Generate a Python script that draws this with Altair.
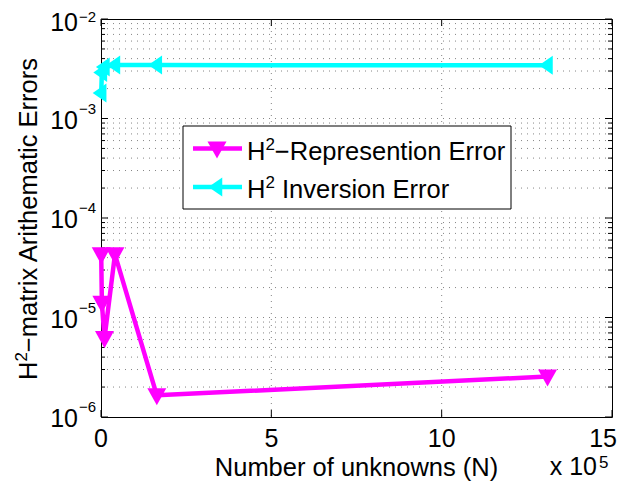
import altair as alt
import pandas as pd

# ---- data ----
N = [640, 2560, 10240, 40960, 163840, 1310720]
rep_err = [4.3e-5, 1.4e-5, 6.2e-6, 4.3e-5, 1.65e-6, 2.55e-6]
inv_err = [1.8e-3, 2.9e-3, 3.3e-3, 3.44e-3, 3.44e-3, 3.42e-3]

series_rest = ["\u2212Represention Error", "Inversion Error"]
series_gap = [0.0, 0.278]   # leading space (in em) after the superscript
x_ticks = [0, 5e5, 1e6, 1.5e6]
x_tick_labels = ["0", "5", "10", "15"]
y_major = [1e-6, 1e-5, 1e-4, 1e-3, 1e-2]
y_exponents = ["\u22126", "\u22125", "\u22124", "\u22123", "\u22122"]
x_title = "Number of unknowns (N)"
y_title_rest = "\u2212matrix Arithematic Errors"
x_mult = "x 10"
x_mult_exp = "5"

# ---- layout ----
W, H = 511, 398
FONT = "Liberation Sans"
FS = 25.5          # title / legend font size
FSS = 17           # superscript font size
H_W = 0.722 * FS   # advance of "H"
TWO_W = 0.556 * FSS
MAG = "#ff00ff"
CYA = "#00ffff"
TRI_DOWN = "M-1,-0.75L1,-0.75L0,1.05Z"
TRI_LEFT = "M-0.9,0L0.55,-1L0.55,1Z"

xs = alt.Scale(domain=[0, 1.5e6], nice=False, zero=False)
ys = alt.Scale(type="log", domain=[1e-6, 1e-2], nice=False)

y_minor = [k * 10.0 ** e for e in range(-6, -2) for k in range(2, 10)]

df_rep = pd.DataFrame({"N": N, "err": rep_err})
df_inv = pd.DataFrame({"N": N, "err": inv_err})
df_ymaj = pd.DataFrame({"v": y_major, "exp": y_exponents})
df_ymin = pd.DataFrame({"v": y_minor})
df_ygrid = pd.DataFrame({"v": y_minor + y_major[1:-1]})
df_xgrid = pd.DataFrame({"v": x_ticks[1:-1]})
df_xt = pd.DataFrame({"v": x_ticks, "lab": x_tick_labels})
one = pd.DataFrame({"a": [0]})

X = lambda f: alt.X(f, scale=xs, axis=None)
Y = lambda f: alt.Y(f, scale=ys, axis=None)


def txt(s, x, y, size=FS, align="left", angle=0):
    kw = dict(align=align, baseline="alphabetic", fontSize=size, font=FONT, color="#000")
    if angle:
        kw["angle"] = angle
    return alt.Chart(one).mark_text(**kw).encode(
        x=alt.value(x), y=alt.value(y), text=alt.value(s))


grid_style = dict(stroke="#333", strokeWidth=1, strokeDash=[1, 5], opacity=0.6)

grid_y = alt.Chart(df_ygrid).mark_rule(**grid_style).encode(
    y=Y("v:Q"), x=alt.value(0), x2=alt.value(W))
grid_x = alt.Chart(df_xgrid).mark_rule(**grid_style).encode(
    x=X("v:Q"), y=alt.value(0), y2=alt.value(H))

tick_style = dict(stroke="#000", strokeWidth=1)
ticks = [
    alt.Chart(df_ymaj).mark_rule(**tick_style).encode(y=Y("v:Q"), x=alt.value(0), x2=alt.value(7)),
    alt.Chart(df_ymaj).mark_rule(**tick_style).encode(y=Y("v:Q"), x=alt.value(W - 7), x2=alt.value(W)),
    alt.Chart(df_ymin).mark_rule(**tick_style).encode(y=Y("v:Q"), x=alt.value(0), x2=alt.value(4)),
    alt.Chart(df_ymin).mark_rule(**tick_style).encode(y=Y("v:Q"), x=alt.value(W - 4), x2=alt.value(W)),
    alt.Chart(df_xt).mark_rule(**tick_style).encode(x=X("v:Q"), y=alt.value(H - 7), y2=alt.value(H)),
    alt.Chart(df_xt).mark_rule(**tick_style).encode(x=X("v:Q"), y=alt.value(0), y2=alt.value(7)),
]

line_rep = alt.Chart(df_rep).mark_line(color=MAG, strokeWidth=4.5, strokeJoin="round").encode(
    x=X("N:Q"), y=Y("err:Q"))
pts_rep = alt.Chart(df_rep).mark_point(shape=TRI_DOWN, filled=True, size=361, color=MAG, opacity=1).encode(
    x=X("N:Q"), y=Y("err:Q"))
line_inv = alt.Chart(df_inv).mark_line(color=CYA, strokeWidth=4.5, strokeJoin="round").encode(
    x=X("N:Q"), y=Y("err:Q"))
pts_inv = alt.Chart(df_inv).mark_point(shape=TRI_LEFT, filled=True, size=361, color=CYA, opacity=1).encode(
    x=X("N:Q"), y=Y("err:Q"))

# y tick labels: 10 with superscript exponent
lo, hi = "datum.v < 0.005", "datum.v > 0.005"
ylab_base = alt.Chart(df_ymaj).transform_filter(lo).mark_text(
    align="right", baseline="alphabetic", fontSize=25, font=FONT, dy=10, color="#000").encode(
    y=Y("v:Q"), x=alt.value(-23), text=alt.value("10"))
ylab_base_top = alt.Chart(df_ymaj).transform_filter(hi).mark_text(
    align="right", baseline="alphabetic", fontSize=25, font=FONT, dy=12, color="#000").encode(
    y=Y("v:Q"), x=alt.value(-23), text=alt.value("10"))
ylab_exp = alt.Chart(df_ymaj).transform_filter(lo).mark_text(
    align="left", baseline="alphabetic", fontSize=15, font=FONT, dy=-5, color="#000").encode(
    y=Y("v:Q"), x=alt.value(-22), text="exp:N")
ylab_exp_top = alt.Chart(df_ymaj).transform_filter(hi).mark_text(
    align="left", baseline="alphabetic", fontSize=15, font=FONT, dy=3, color="#000").encode(
    y=Y("v:Q"), x=alt.value(-22), text="exp:N")

# x tick labels (last one kept inside the page)
xlab = alt.Chart(df_xt).transform_filter("datum.v < 1.4e6").mark_text(
    align="center", baseline="alphabetic", fontSize=25, font=FONT, color="#000").encode(
    x=X("v:Q"), y=alt.value(428), text="lab:N")
xlab_last = alt.Chart(df_xt).transform_filter("datum.v > 1.4e6").mark_text(
    align="right", baseline="alphabetic", fontSize=25, font=FONT, color="#000", dx=5).encode(
    x=X("v:Q"), y=alt.value(428), text="lab:N")

xtitle = txt(x_title, W / 2, 457, align="center")
# y title: H^2-matrix ... rotated, built from pieces
YT_X, YT_Y = -64, 361
ytitle = [
    txt("H", YT_X, YT_Y, angle=270),
    txt("2", YT_X - 10, YT_Y - H_W, size=FSS, angle=270),
    txt(y_title_rest, YT_X, YT_Y - H_W - TWO_W, angle=270),
]
xmult = txt(x_mult, 496, 456, size=25, align="right")
xmult_e = txt(x_mult_exp, 498, 449, size=FSS)

# legend
leg_box = alt.Chart(one).mark_rect(fill="white", stroke="#000", strokeWidth=1).encode(
    x=alt.value(82), x2=alt.value(410), y=alt.value(107), y2=alt.value(190))
leg = [leg_box]
rows = [(series_rest[0], series_gap[0], MAG, TRI_DOWN, 129.5, 141),
        (series_rest[1], series_gap[1], CYA, TRI_LEFT, 168, 179)]
TX = 146
for rest, gap, col, shp, ly, ty in rows:
    leg.append(alt.Chart(one).mark_rule(color=col, strokeWidth=4.5).encode(
        x=alt.value(92), x2=alt.value(141), y=alt.value(ly)))
    leg.append(alt.Chart(one).mark_point(shape=shp, filled=True, size=361, color=col, opacity=1).encode(
        x=alt.value(116), y=alt.value(ly)))
    leg.append(txt("H", TX, ty))
    leg.append(txt("2", TX + H_W, ty - 10, size=FSS))
    leg.append(txt(rest, TX + H_W + TWO_W + gap * FS, ty))

chart = alt.layer(
    grid_y, grid_x, *ticks, line_rep, pts_rep, line_inv, pts_inv,
    ylab_base, ylab_base_top, ylab_exp, ylab_exp_top, xlab, xlab_last,
    xtitle, *ytitle, xmult, xmult_e, *leg
).properties(
    width=W, height=H,
    padding={"left": 93, "top": 11, "right": 6, "bottom": 64},
    autosize=alt.AutoSizeParams(type="none"),
).configure_view(stroke="#000", strokeWidth=1)

chart.save("out.html", embed_options={"renderer": "svg", "actions": False})
